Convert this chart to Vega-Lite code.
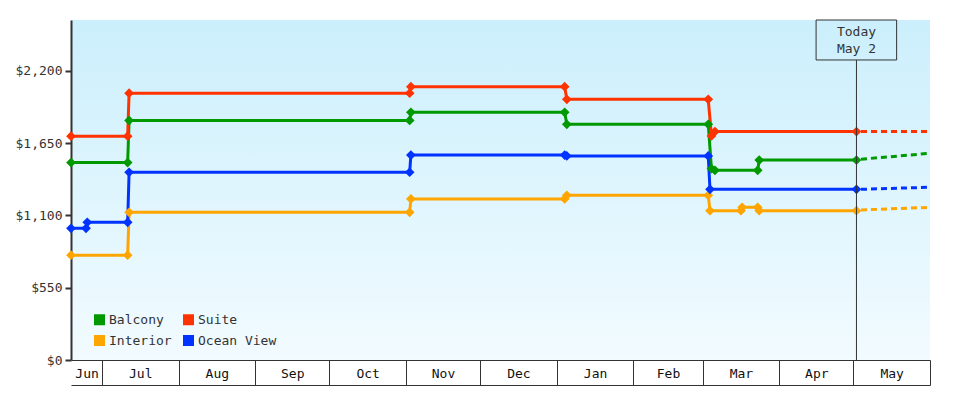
{
  "$schema": "https://vega.github.io/schema/vega-lite/v6.json",
  "description": "Cabin price history with today marker and forecast.",
  "autosize": "none",
  "padding": {"left": 71, "top": 20, "right": 50, "bottom": 40},
  "width": 859,
  "height": 340,
  "background": "white",
  "datasets": {
    "prices": [
      {"series": "Balcony", "date": "2022-06-18T12:00", "price": 1502},
      {"series": "Balcony", "date": "2022-07-11T10:00", "price": 1502},
      {"series": "Balcony", "date": "2022-07-12T00:00", "price": 1822},
      {"series": "Balcony", "date": "2022-11-02T12:00", "price": 1822},
      {"series": "Balcony", "date": "2022-11-03T00:00", "price": 1884},
      {"series": "Balcony", "date": "2023-01-04T05:00", "price": 1884},
      {"series": "Balcony", "date": "2023-01-05T02:00", "price": 1793},
      {"series": "Balcony", "date": "2023-03-03T07:00", "price": 1793},
      {"series": "Balcony", "date": "2023-03-04T14:00", "price": 1455},
      {"series": "Balcony", "date": "2023-03-06T00:00", "price": 1443},
      {"series": "Balcony", "date": "2023-03-23T07:00", "price": 1443},
      {"series": "Balcony", "date": "2023-03-23T22:00", "price": 1521},
      {"series": "Balcony", "date": "2023-05-02T06:00", "price": 1521},
      {"series": "Suite", "date": "2022-06-18T12:00", "price": 1702},
      {"series": "Suite", "date": "2022-07-11T10:00", "price": 1702},
      {"series": "Suite", "date": "2022-07-12T00:00", "price": 2029},
      {"series": "Suite", "date": "2022-11-02T12:00", "price": 2029},
      {"series": "Suite", "date": "2022-11-03T00:00", "price": 2079},
      {"series": "Suite", "date": "2023-01-04T05:00", "price": 2079},
      {"series": "Suite", "date": "2023-01-05T02:00", "price": 1983},
      {"series": "Suite", "date": "2023-03-03T07:00", "price": 1983},
      {"series": "Suite", "date": "2023-03-04T14:00", "price": 1704},
      {"series": "Suite", "date": "2023-03-06T00:00", "price": 1737},
      {"series": "Suite", "date": "2023-05-02T06:00", "price": 1737},
      {"series": "Interior", "date": "2022-06-18T12:00", "price": 797},
      {"series": "Interior", "date": "2022-07-11T10:00", "price": 797},
      {"series": "Interior", "date": "2022-07-12T00:00", "price": 1123},
      {"series": "Interior", "date": "2022-11-02T12:00", "price": 1123},
      {"series": "Interior", "date": "2022-11-03T00:00", "price": 1225},
      {"series": "Interior", "date": "2023-01-04T05:00", "price": 1225},
      {"series": "Interior", "date": "2023-01-05T02:00", "price": 1253},
      {"series": "Interior", "date": "2023-03-03T07:00", "price": 1253},
      {"series": "Interior", "date": "2023-03-04T00:00", "price": 1136},
      {"series": "Interior", "date": "2023-03-16T12:00", "price": 1136},
      {"series": "Interior", "date": "2023-03-17T00:00", "price": 1161},
      {"series": "Interior", "date": "2023-03-23T07:00", "price": 1161},
      {"series": "Interior", "date": "2023-03-23T22:00", "price": 1136},
      {"series": "Interior", "date": "2023-05-02T06:00", "price": 1136},
      {"series": "Ocean View", "date": "2022-06-18T12:00", "price": 1002},
      {"series": "Ocean View", "date": "2022-06-24T14:00", "price": 1002},
      {"series": "Ocean View", "date": "2022-06-25T02:00", "price": 1047},
      {"series": "Ocean View", "date": "2022-07-11T10:00", "price": 1047},
      {"series": "Ocean View", "date": "2022-07-12T00:00", "price": 1428},
      {"series": "Ocean View", "date": "2022-11-02T12:00", "price": 1428},
      {"series": "Ocean View", "date": "2022-11-03T00:00", "price": 1559},
      {"series": "Ocean View", "date": "2023-01-04T05:00", "price": 1559},
      {"series": "Ocean View", "date": "2023-01-05T02:00", "price": 1552},
      {"series": "Ocean View", "date": "2023-03-03T07:00", "price": 1552},
      {"series": "Ocean View", "date": "2023-03-04T00:00", "price": 1298},
      {"series": "Ocean View", "date": "2023-05-02T06:00", "price": 1298}
    ],
    "forecast": [
      {"series": "Suite", "date": "2023-05-04T02:00", "price": 1737},
      {"series": "Suite", "date": "2023-06-01T00:00", "price": 1737},
      {"series": "Balcony", "date": "2023-05-04T02:00", "price": 1527},
      {"series": "Balcony", "date": "2023-06-01T00:00", "price": 1572},
      {"series": "Ocean View", "date": "2023-05-04T02:00", "price": 1298},
      {"series": "Ocean View", "date": "2023-06-01T00:00", "price": 1314},
      {"series": "Interior", "date": "2023-05-04T02:00", "price": 1141},
      {"series": "Interior", "date": "2023-06-01T00:00", "price": 1161}
    ],
    "today": [
      {"date": "2023-05-02T06:00", "boxStart": "2023-04-15T22:00", "boxEnd": "2023-05-18T12:00", "zero": 0, "top": 2586, "bottom": 2282, "mid": 2497, "label": "Today\nMay 2"}
    ]
  },
  "resolve": {"axis": {"x": "independent", "y": "independent"}, "legend": {"color": "independent"}},
  "layer": [
    {
      "data": {"name": "prices"},
      "mark": {"type": "line", "strokeWidth": 3},
      "encoding": {
        "x": {
          "field": "date", "type": "temporal",
          "scale": {"domain": [{"year": 2022, "month": 6, "date": 18, "hours": 12}, {"year": 2023, "month": 6, "date": 1}], "nice": false},
          "axis": {
            "orient": "bottom", "title": null, "labels": false, "grid": false,
            "values": [
              {"year": 2022, "month": 7, "date": 1}, {"year": 2022, "month": 8, "date": 1},
              {"year": 2022, "month": 9, "date": 1}, {"year": 2022, "month": 10, "date": 1},
              {"year": 2022, "month": 11, "date": 1}, {"year": 2022, "month": 12, "date": 1},
              {"year": 2023, "month": 1, "date": 1}, {"year": 2023, "month": 2, "date": 1},
              {"year": 2023, "month": 3, "date": 1}, {"year": 2023, "month": 4, "date": 1},
              {"year": 2023, "month": 5, "date": 1}, {"year": 2023, "month": 6, "date": 1}
            ],
            "tickSize": 25, "tickWidth": 1, "tickColor": "#333",
            "domainColor": "#333", "domainWidth": 1
          }
        },
        "y": {
          "field": "price", "type": "quantitative",
          "scale": {"domain": [0, 2586], "nice": false, "zero": false},
          "axis": {
            "orient": "left", "title": null, "grid": false,
            "values": [0, 550, 1100, 1650, 2200], "format": "$,d",
            "domainColor": "#333", "domainWidth": 2,
            "tickColor": "#333", "tickWidth": 2, "tickSize": 6,
            "labelColor": "#333", "labelFontSize": 13, "labelPadding": 3
          }
        },
        "color": {
          "field": "series", "type": "nominal",
          "scale": {"domain": ["Balcony", "Suite", "Interior", "Ocean View"], "range": ["#009900", "#ff3300", "#ffa500", "#0033ff"]},
          "legend": null
        },
        "detail": {"field": "series"}
      }
    },
    {
      "data": {"name": "prices"},
      "mark": {"type": "point", "shape": "diamond", "filled": true, "size": 95, "opacity": 1},
      "encoding": {
        "x": {
          "field": "date", "type": "temporal",
          "scale": {"domain": [{"year": 2022, "month": 6, "date": 18, "hours": 12}, {"year": 2023, "month": 6, "date": 1}], "nice": false},
          "axis": {
            "orient": "bottom", "title": null, "grid": false, "domain": false, "ticks": false, "tickSize": 0,
            "values": [
              {"year": 2022, "month": 6, "date": 24, "hours": 19}, {"year": 2022, "month": 7, "date": 16, "hours": 12},
              {"year": 2022, "month": 8, "date": 16, "hours": 12}, {"year": 2022, "month": 9, "date": 16},
              {"year": 2022, "month": 10, "date": 16, "hours": 12}, {"year": 2022, "month": 11, "date": 16},
              {"year": 2022, "month": 12, "date": 16, "hours": 12}, {"year": 2023, "month": 1, "date": 16, "hours": 12},
              {"year": 2023, "month": 2, "date": 15}, {"year": 2023, "month": 3, "date": 16, "hours": 12},
              {"year": 2023, "month": 4, "date": 16}, {"year": 2023, "month": 5, "date": 16, "hours": 12}
            ],
            "format": "%b", "labelPadding": 13, "labelBaseline": "middle",
            "labelFlush": false, "labelOverlap": false,
            "labelColor": "#111", "labelFontSize": 13
          }
        },
        "y": {
          "field": "price", "type": "quantitative",
          "scale": {"domain": [0, 2586], "nice": false, "zero": false},
          "axis": null
        },
        "color": {
          "field": "series", "type": "nominal",
          "scale": {"domain": ["Balcony", "Suite", "Interior", "Ocean View"], "range": ["#009900", "#ff3300", "#ffa500", "#0033ff"]},
          "legend": {
            "title": null, "orient": "none", "legendX": 22, "legendY": 293,
            "direction": "horizontal", "columns": 2,
            "symbolType": "square", "symbolSize": 121, "symbolStrokeWidth": 0,
            "labelFontSize": 13, "labelColor": "#333", "labelOffset": 3,
            "rowPadding": 7, "columnPadding": 10
          }
        }
      }
    },
    {
      "data": {"name": "forecast"},
      "mark": {"type": "line", "strokeWidth": 3, "strokeDash": [6, 4]},
      "encoding": {
        "x": {
          "field": "date", "type": "temporal",
          "scale": {"domain": [{"year": 2022, "month": 6, "date": 18, "hours": 12}, {"year": 2023, "month": 6, "date": 1}], "nice": false},
          "axis": {"orient": "bottom", "title": null, "labels": false, "ticks": false, "grid": false, "offset": 25, "domainColor": "#333", "domainWidth": 1}
        },
        "y": {
          "field": "price", "type": "quantitative",
          "scale": {"domain": [0, 2586], "nice": false, "zero": false},
          "axis": null
        },
        "color": {
          "field": "series", "type": "nominal",
          "scale": {"domain": ["Balcony", "Suite", "Interior", "Ocean View"], "range": ["#009900", "#ff3300", "#ffa500", "#0033ff"]},
          "legend": null
        }
      }
    },
    {
      "data": {"name": "today"},
      "mark": {"type": "rule", "color": "#333", "strokeWidth": 1},
      "encoding": {
        "x": {"field": "date", "type": "temporal", "axis": null},
        "y": {"field": "zero", "type": "quantitative", "axis": null},
        "y2": {"field": "bottom"}
      }
    },
    {
      "data": {"name": "today"},
      "mark": {"type": "rect", "fill": null, "fillOpacity": 0, "stroke": "#333", "strokeWidth": 1},
      "encoding": {
        "x": {"field": "boxStart", "type": "temporal", "axis": null},
        "x2": {"field": "boxEnd"},
        "y": {"field": "top", "type": "quantitative", "axis": null},
        "y2": {"field": "bottom"}
      }
    },
    {
      "data": {"name": "today"},
      "mark": {"type": "text", "lineBreak": "\n", "lineHeight": 17, "fontSize": 13, "color": "#333", "baseline": "middle", "align": "center"},
      "encoding": {
        "x": {"field": "date", "type": "temporal", "axis": null},
        "y": {"field": "mid", "type": "quantitative", "axis": null},
        "text": {"field": "label"}
      }
    }
  ],
  "config": {
    "font": "DejaVu Sans Mono",
    "view": {
      "stroke": null,
      "fill": {"gradient": "linear", "x1": 0, "y1": 0, "x2": 0, "y2": 1, "stops": [{"offset": 0, "color": "#cbeffc"}, {"offset": 1, "color": "#f2fbff"}]}
    },
    "axis": {"labelFont": "DejaVu Sans Mono"},
    "legend": {"labelFont": "DejaVu Sans Mono"}
  }
}
